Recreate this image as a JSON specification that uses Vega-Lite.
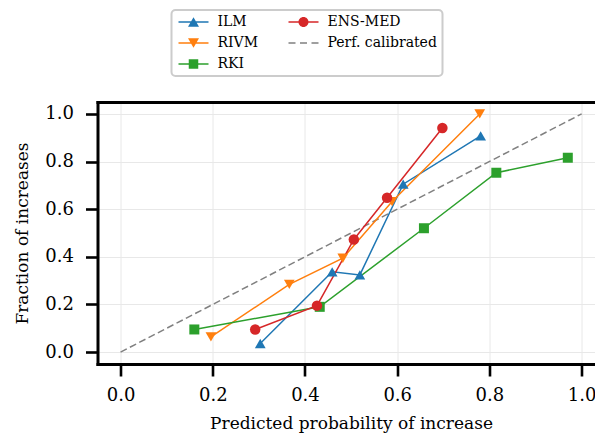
{
  "$schema": "https://vega.github.io/schema/vega-lite/v6.json",
  "width": 497.5,
  "height": 262,
  "padding": {"left": 97.5, "top": 102, "right": 0, "bottom": 71},
  "autosize": {"type": "none"},
  "background": "white",
  "config": {
    "view": {"stroke": null},
    "font": "DejaVu Serif",
    "axis": {
      "labelFont": "DejaVu Serif",
      "titleFont": "DejaVu Serif",
      "domainColor": "black",
      "domainWidth": 3,
      "domainCap": "square",
      "tickColor": "black",
      "tickWidth": 2.6,
      "tickSize": 12,
      "labelFontSize": 18,
      "labelColor": "black",
      "titleFontSize": 17,
      "titleFontWeight": "normal",
      "titleColor": "black",
      "gridColor": "#e8e8e8",
      "gridWidth": 1
    },
    "legend": {"strokeWidth": 2}
  },
  "datasets": {
    "curves": [
      {"model": "ILM", "k": 1, "p": 0.303, "f": 0.036},
      {"model": "ILM", "k": 2, "p": 0.459, "f": 0.337},
      {"model": "ILM", "k": 3, "p": 0.519, "f": 0.324},
      {"model": "ILM", "k": 4, "p": 0.613, "f": 0.705},
      {"model": "ILM", "k": 5, "p": 0.781, "f": 0.908},
      {"model": "RIVM", "k": 1, "p": 0.196, "f": 0.064},
      {"model": "RIVM", "k": 2, "p": 0.366, "f": 0.284},
      {"model": "RIVM", "k": 3, "p": 0.482, "f": 0.394},
      {"model": "RIVM", "k": 4, "p": 0.589, "f": 0.632},
      {"model": "RIVM", "k": 5, "p": 0.779, "f": 1.0},
      {"model": "RKI", "k": 1, "p": 0.16, "f": 0.095},
      {"model": "RKI", "k": 2, "p": 0.432, "f": 0.19},
      {"model": "RKI", "k": 3, "p": 0.658, "f": 0.52},
      {"model": "RKI", "k": 4, "p": 0.815, "f": 0.753},
      {"model": "RKI", "k": 5, "p": 0.97, "f": 0.816},
      {"model": "ENS-MED", "k": 1, "p": 0.292, "f": 0.095},
      {"model": "ENS-MED", "k": 2, "p": 0.426, "f": 0.195},
      {"model": "ENS-MED", "k": 3, "p": 0.506, "f": 0.473},
      {"model": "ENS-MED", "k": 4, "p": 0.578, "f": 0.648},
      {"model": "ENS-MED", "k": 5, "p": 0.698, "f": 0.941}
    ],
    "diagonal": [
      {"p": 0, "f": 0},
      {"p": 1, "f": 1}
    ]
  },
  "layer": [
    {
      "data": {"name": "diagonal"},
      "mark": {"type": "line", "color": "#808080", "strokeWidth": 1.5, "strokeDash": [7, 3.5]},
      "encoding": {
        "x": {
          "field": "p", "type": "quantitative",
          "scale": {"domain": [-0.05, 1.029], "nice": false, "zero": false},
          "axis": {
            "orient": "bottom",
            "title": "Predicted probability of increase",
            "titleX": 253.5,
            "values": [0, 0.2, 0.4, 0.6, 0.8, 1.0],
            "format": ".1f",
            "labelPadding": 10,
            "titlePadding": 11,
            "grid": true
          }
        },
        "y": {
          "field": "f", "type": "quantitative",
          "scale": {"domain": [-0.05, 1.05], "nice": false, "zero": false},
          "axis": {
            "title": "Fraction of increases",
            "values": [0, 0.2, 0.4, 0.6, 0.8, 1.0],
            "format": ".1f",
            "labelPadding": 12,
            "titlePadding": 13,
            "grid": true
          }
        }
      }
    },
    {
      "data": {"name": "curves"},
      "mark": {"type": "point", "filled": true, "opacity": 0},
      "encoding": {
        "x": {
          "field": "p", "type": "quantitative",
          "axis": {"orient": "top", "labels": false, "ticks": false, "grid": false, "title": null, "domain": true}
        },
        "y": {"field": "f", "type": "quantitative"},
        "color": {
          "field": "model", "type": "nominal",
          "scale": {
            "domain": ["ILM", "RIVM", "RKI", "ENS-MED", "Perf. calibrated"],
            "range": ["#1f77b4", "#ff7f0e", "#2ca02c", "#d62728", "#808080"]
          },
          "legend": {
            "orient": "none", "legendX": 74, "legendY": -92, "columns": 2, "title": null,
            "symbolSize": 100, "symbolStrokeWidth": 0, "symbolOpacity": 1,
            "symbolFillColor": "white",
            "labelFont": "DejaVu Serif", "labelFontSize": 14, "labelColor": "black",
            "labelOffset": 27, "rowPadding": 7, "columnPadding": 28, "padding": 5,
            "strokeColor": "#cccccc", "fillColor": "white", "cornerRadius": 4
          }
        },
        "shape": {
          "field": "model", "type": "nominal",
          "scale": {
            "domain": ["ILM", "RIVM", "RKI", "ENS-MED", "Perf. calibrated"],
            "range": [
              "M-1,-0.15H5V0.15H-1ZM2,-0.95L3.1,0.95L0.9,0.95Z",
              "M-1,-0.15H5V0.15H-1ZM2,0.95L0.9,-0.95L3.1,-0.95Z",
              "M-1,-0.15H5V0.15H-1ZM1.05,-0.95H2.95V0.95H1.05Z",
              "M-1,-0.15H5V0.15H-1ZM3,0A1,1 0 1,1 1,0A1,1 0 1,1 3,0Z",
              "M-1,-0.15H0.4V0.15H-1ZM1.3,-0.15H2.7V0.15H1.3ZM3.6,-0.15H5V0.15H3.6Z"
            ]
          },
          "legend": {
            "orient": "none", "legendX": 74, "legendY": -92, "columns": 2, "title": null,
            "symbolSize": 100, "symbolStrokeWidth": 0, "symbolOpacity": 1,
            "symbolFillColor": "white",
            "labelFont": "DejaVu Serif", "labelFontSize": 14, "labelColor": "black",
            "labelOffset": 27, "rowPadding": 7, "columnPadding": 28, "padding": 5,
            "strokeColor": "#cccccc", "fillColor": "white", "cornerRadius": 4
          }
        }
      }
    },
    {
      "data": {"name": "curves"},
      "mark": {"type": "line", "strokeWidth": 1.5},
      "encoding": {
        "x": {"field": "p", "type": "quantitative", "axis": null},
        "y": {"field": "f", "type": "quantitative"},
        "order": {"field": "k", "type": "quantitative"},
        "color": {"field": "model", "type": "nominal", "legend": null}
      }
    },
    {
      "data": {"name": "curves"},
      "transform": [{"filter": "datum.model === 'ILM'"}],
      "mark": {"type": "point", "filled": true, "opacity": 1, "size": 115, "shape": "triangle-up"},
      "encoding": {
        "x": {"field": "p", "type": "quantitative", "axis": null},
        "y": {"field": "f", "type": "quantitative"},
        "color": {"field": "model", "type": "nominal", "legend": null}
      }
    },
    {
      "data": {"name": "curves"},
      "transform": [{"filter": "datum.model === 'RIVM'"}],
      "mark": {"type": "point", "filled": true, "opacity": 1, "size": 115, "shape": "triangle-down"},
      "encoding": {
        "x": {"field": "p", "type": "quantitative", "axis": null},
        "y": {"field": "f", "type": "quantitative"},
        "color": {"field": "model", "type": "nominal", "legend": null}
      }
    },
    {
      "data": {"name": "curves"},
      "transform": [{"filter": "datum.model === 'RKI'"}],
      "mark": {"type": "point", "filled": true, "opacity": 1, "size": 100, "shape": "square"},
      "encoding": {
        "x": {"field": "p", "type": "quantitative", "axis": null},
        "y": {"field": "f", "type": "quantitative"},
        "color": {"field": "model", "type": "nominal", "legend": null}
      }
    },
    {
      "data": {"name": "curves"},
      "transform": [{"filter": "datum.model === 'ENS-MED'"}],
      "mark": {"type": "point", "filled": true, "opacity": 1, "size": 110, "shape": "circle"},
      "encoding": {
        "x": {"field": "p", "type": "quantitative", "axis": null},
        "y": {"field": "f", "type": "quantitative"},
        "color": {"field": "model", "type": "nominal", "legend": null}
      }
    }
  ],
  "resolve": {"axis": {"x": "independent"}}
}
